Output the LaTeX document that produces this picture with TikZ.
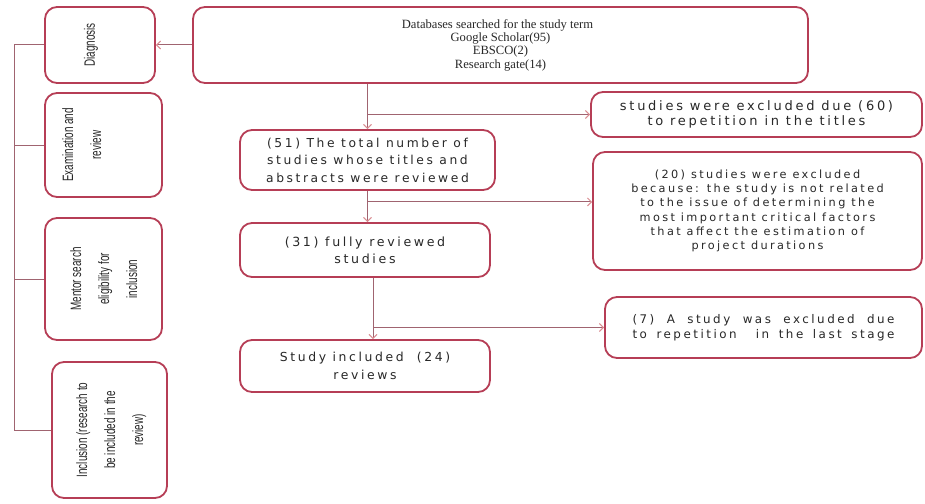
\documentclass[tikz,border=0pt]{standalone}
\usepackage{fontspec}
\usetikzlibrary{arrows.meta,calc}
\setmainfont{Liberation Serif}
\newfontfamily\boxfont[LetterSpace=21]{DejaVu Sans}
\newfontfamily\narrowfont[FakeStretch=0.66]{Liberation Sans}
\definecolor{bordc}{RGB}{182,62,86}
\definecolor{linec}{RGB}{160,100,112}
\definecolor{tipc}{RGB}{218,140,145}
\definecolor{textc}{RGB}{40,40,40}
\tikzset{
  box/.style={draw=bordc, line width=1.8pt, rounded corners=12pt, fill=white,
    inner sep=0pt, align=center, text=textc},
  sidebox/.style={box, font=\narrowfont\fontsize{15}{28}\selectfont},
  flowbox/.style={box, font=\boxfont\fontsize{12.3}{17.5}\selectfont},
  conn/.style={draw=linec, line width=1pt},
  arr/.style={conn, -{Straight Barb[length=4pt,width=8pt,line width=1pt,color=tipc]}},
}
\begin{document}
\begin{tikzpicture}[x=1pt,y=-1pt]
\useasboundingbox[fill=white] (0,0) rectangle (925,503);
% left column
\node[sidebox, minimum width=110, minimum height=76] (diag) at (100,45) {\rotatebox{90}{Diagnosis}\hspace{18pt}};
\node[sidebox, minimum width=117, minimum height=104] (exam) at (103.5,145) {\rotatebox{90}{\begin{tabular}{@{}c@{}}Examination and\\ review\end{tabular}}\hspace{44pt}};
\node[sidebox, minimum width=117, minimum height=122] (ment) at (103.5,279) {\rotatebox{90}{\begin{tabular}{@{}c@{}}Mentor search\\ eligibility for\\ inclusion\end{tabular}}};
\node[sidebox, minimum width=115, minimum height=136] (incl) at (109.5,430) {\rotatebox{90}{\begin{tabular}{@{}c@{}}Inclusion (research to\\ be included in the\\ review)\end{tabular}}};
% main column
\node[box, minimum width=615, minimum height=76, font=\fontsize{12.6}{13.3}\selectfont] (db) at (500.5,45)
  {\hspace{-6pt}Databases searched for the study term\\ Google Scholar(95)\\ EBSCO(2)\\ Research gate(14)};
\node[flowbox, minimum width=255, minimum height=60] (s51) at (367.5,160)
  {(51) The total number of\\ studies whose titles and\\ abstracts were reviewed};
\node[flowbox, minimum width=250, minimum height=54, font=\boxfont\fontsize{12.6}{17}\selectfont] (s31) at (365,250)
  {(31) fully reviewed\\ studies};
\node[flowbox, minimum width=250, minimum height=52, font=\boxfont\fontsize{12.4}{18}\selectfont] (s24) at (365,366)
  {Study included\ \ (24)\\ reviews};
% exclusion column
\node[flowbox, minimum width=331, minimum height=45, font=\boxfont\fontsize{13}{15}\selectfont] (ex60) at (756.5,114.5)
  {studies were excluded due (60)\\ to repetition in the titles};
\node[flowbox, minimum width=329, minimum height=118, font=\boxfont\fontsize{11.3}{14.3}\selectfont] (ex20) at (757.5,211)
  {(20) studies were excluded\\ because: the study is not related\\ to the issue of determining the\\ most important critical factors\\ that affect the estimation of\\ project durations};
\node[flowbox, minimum width=317, minimum height=61, font=\boxfont\fontsize{11.9}{15}\selectfont] (ex7) at (763.5,327.5)
  {\raisebox{8pt}{\begin{tabular}{@{}l@{}}\makebox[262pt][s]{(7) A study was excluded due}\\ \makebox[262pt][s]{to repetition\ \ in the last stage}\end{tabular}}};
% bracket on the left
\coordinate (bx) at (14,0);
\draw[conn] (diag.west) -- (diag.west -| bx) -- (incl.west -| bx) -- (incl.west);
\draw[conn] (exam.west -| bx) -- (exam.west);
\draw[conn] (ment.west -| bx) -- (ment.west);
% arrows
\draw[arr] (db.west) -- (diag.east);
\draw[arr] (s51.north |- db.south) -- (s51.north);
\draw[arr] (s51.north |- ex60.west) -- (ex60.west);
\draw[arr] (s51.south) -- (s51.south |- s31.north);
\path (s51.south) ++(0,11) coordinate (j2);
\draw[arr] (j2) -- (j2 -| ex20.west);
\path (s31.south) ++(8,0) coordinate (j3);
\draw[arr] (j3) -- (j3 |- s24.north);
\draw[arr] (j3 |- ex7.west) -- (ex7.west);
\end{tikzpicture}
\end{document}
